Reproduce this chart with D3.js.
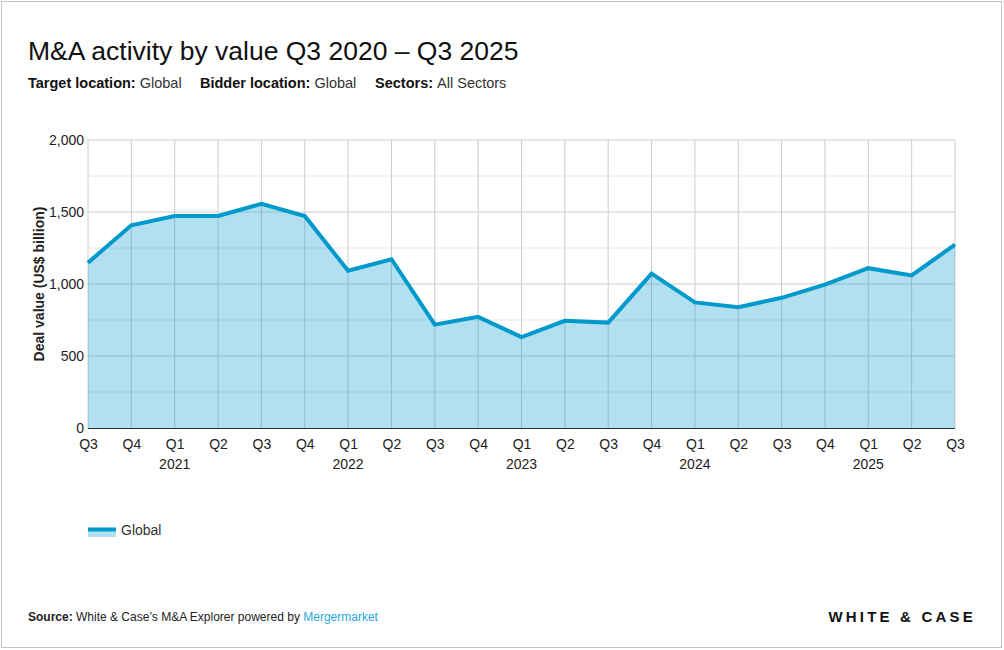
<!DOCTYPE html>
<html>
<head>
<meta charset="utf-8">
<script src="https://cdn.jsdelivr.net/npm/d3@7"></script>
<style>
  body { margin: 0; background: #fff; }
  svg { display: block; font-family: "Liberation Sans", Arial, sans-serif; }
</style>
</head>
<body>
<svg id="chart" width="1004" height="650"></svg>
<script>
// data, US$ billion per quarter
var quarters = ['Q3','Q4','Q1','Q2','Q3','Q4','Q1','Q2','Q3','Q4','Q1','Q2','Q3','Q4','Q1','Q2','Q3','Q4','Q1','Q2','Q3'];
var years    = ['','','2021','','','','2022','','','','2023','','','','2024','','','','2025','',''];
var globalValues = [1148,1408,1472,1472,1556,1472,1092,1172,718,772,631,744,732,1072,872,839,904,996,1110,1060,1273];
var yTicks = [0,500,1000,1500,2000];
var yGrid  = [250,750,1250,1750];

var svg = d3.select('#chart');
var lineColor = '#0099cc';

// outer frame
svg.append('rect')
    .attr('x', 1.5).attr('y', 1.5)
    .attr('width', 1000).attr('height', 646)
    .attr('fill', 'none')
    .attr('stroke', '#c4c4c4');

// title + filters
svg.append('text')
    .attr('x', 28).attr('y', 60)
    .style('font-size', '26.5px')
    .style('fill', '#111')
    .text('M&A activity by value Q3 2020 \u2013 Q3 2025');

var sub = svg.append('text')
    .attr('x', 28).attr('y', 88)
    .style('font-size', '14.5px')
    .style('fill', '#111');
sub.append('tspan').style('font-weight', 'bold').text('Target location: ');
sub.append('tspan').style('fill', '#333').text('Global');
sub.append('tspan').attr('x', 200).style('font-weight', 'bold').text('Bidder location: ');
sub.append('tspan').style('fill', '#333').text('Global');
sub.append('tspan').attr('x', 375).style('font-weight', 'bold').text('Sectors: ');
sub.append('tspan').style('fill', '#333').text('All Sectors');

// plot area
var plotLeft = 88, plotRight = 955, plotTop = 140, plotBottom = 428;

var x = d3.scalePoint()
    .domain(d3.range(quarters.length))
    .range([plotLeft, plotRight]);

var y = d3.scaleLinear()
    .domain([0, 2000])
    .range([plotBottom, plotTop]);

var grid = svg.append('g');

// minor horizontal grid
grid.selectAll('.minor')
    .data(yGrid)
    .enter().append('line')
    .attr('x1', plotLeft).attr('x2', plotRight)
    .attr('y1', function(d){ return y(d); })
    .attr('y2', function(d){ return y(d); })
    .attr('stroke', '#e6e6e6');

// major horizontal grid
grid.selectAll('.major')
    .data(yTicks.slice(1))
    .enter().append('line')
    .attr('x1', plotLeft).attr('x2', plotRight)
    .attr('y1', function(d){ return y(d); })
    .attr('y2', function(d){ return y(d); })
    .attr('stroke', '#cccccc');

// vertical grid
grid.selectAll('.vert')
    .data(d3.range(quarters.length))
    .enter().append('line')
    .attr('x1', function(d){ return x(d); })
    .attr('x2', function(d){ return x(d); })
    .attr('y1', plotTop).attr('y2', plotBottom)
    .attr('stroke', '#cccccc');

// area + line
var area = d3.area()
    .x(function(d, i){ return x(i); })
    .y0(y(0))
    .y1(function(d){ return y(d); });

var line = d3.line()
    .x(function(d, i){ return x(i); })
    .y(function(d){ return y(d); });

svg.append('path')
    .datum(globalValues)
    .attr('d', area)
    .attr('fill', lineColor)
    .attr('fill-opacity', 0.3);

svg.append('path')
    .datum(globalValues)
    .attr('d', line)
    .attr('fill', 'none')
    .attr('stroke', lineColor)
    .attr('stroke-width', 4)
    .attr('stroke-linejoin', 'miter');

// baseline
svg.append('line')
    .attr('x1', plotLeft).attr('x2', plotRight)
    .attr('y1', y(0) + 0.5).attr('y2', y(0) + 0.5)
    .attr('stroke', '#333');

// y axis labels
var yAxis = svg.append('g')
    .attr('transform', 'translate(' + plotLeft + ',0)')
    .call(d3.axisLeft(y).tickValues(yTicks).tickSize(0).tickPadding(4).tickFormat(d3.format(',')));
yAxis.select('.domain').remove();
yAxis.selectAll('text')
    .style('font-size', '14px')
    .style('font-family', '"Liberation Sans", Arial, sans-serif')
    .attr('fill', '#222');

svg.append('text')
    .attr('transform', 'translate(44,' + ((plotTop + plotBottom) / 2) + ') rotate(-90)')
    .attr('text-anchor', 'middle')
    .style('font-size', '14px')
    .style('font-weight', 'bold')
    .style('fill', '#222')
    .text('Deal value (US$ billion)');

// x axis labels: quarter, then year
var xAxis = svg.append('g')
    .attr('transform', 'translate(0,' + plotBottom + ')')
    .call(d3.axisBottom(x).tickSize(0).tickPadding(11).tickFormat(function(i){ return quarters[i]; }));
xAxis.select('.domain').remove();
xAxis.selectAll('text')
    .style('font-size', '14px')
    .style('font-family', '"Liberation Sans", Arial, sans-serif')
    .attr('fill', '#222');

svg.append('g').selectAll('text')
    .data(years)
    .enter().append('text')
    .attr('x', function(d, i){ return x(i); })
    .attr('y', 469)
    .attr('text-anchor', 'middle')
    .style('font-size', '14px')
    .style('fill', '#222')
    .text(function(d){ return d; });

// legend
svg.append('rect')
    .attr('x', 88).attr('y', 531)
    .attr('width', 28).attr('height', 6)
    .attr('fill', lineColor).attr('fill-opacity', 0.3);
svg.append('line')
    .attr('x1', 88).attr('x2', 116)
    .attr('y1', 529.5).attr('y2', 529.5)
    .attr('stroke', lineColor).attr('stroke-width', 4);
svg.append('text')
    .attr('x', 121).attr('y', 535)
    .style('font-size', '14px')
    .style('fill', '#333')
    .text('Global');

// footer
var src = svg.append('text')
    .attr('x', 28).attr('y', 621)
    .style('font-size', '12px')
    .style('fill', '#222');
src.append('tspan').style('font-weight', 'bold').text('Source:');
src.append('tspan').text(' White & Case\u2019s M&A Explorer powered by ');
src.append('tspan').style('fill', '#29a8df').text('Mergermarket');

svg.append('text')
    .attr('x', 976).attr('y', 622)
    .attr('text-anchor', 'end')
    .style('font-size', '15px')
    .style('letter-spacing', '3.2px')
    .style('font-weight', 'bold')
    .style('fill', '#111')
    .text('WHITE & CASE');
</script>
</body>
</html>
